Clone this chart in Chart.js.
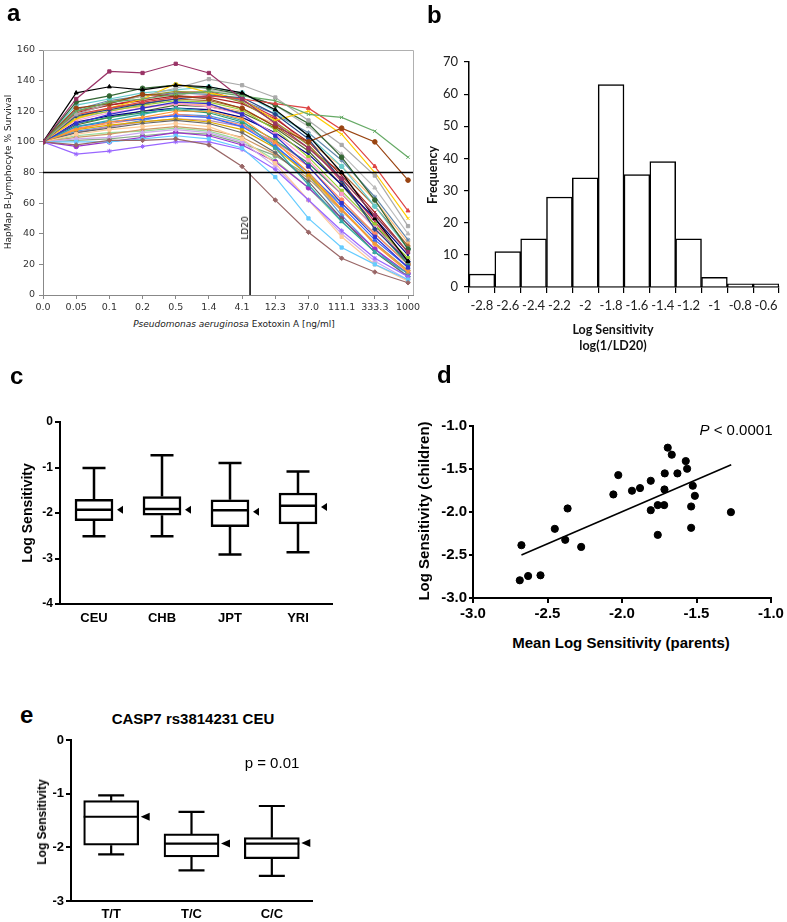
<!DOCTYPE html>
<html>
<head>
<meta charset="utf-8">
<script src="https://cdn.jsdelivr.net/npm/chart.js@4.4.1/dist/chart.umd.min.js"></script>
<style>
  body { margin: 0; background: #fff; }
  #fig { position: relative; width: 787px; height: 922px; overflow: hidden; font-family: "Liberation Sans", Arial, sans-serif; color: #000; }
  canvas { position: absolute; }
  .lbl { position: absolute; white-space: nowrap; line-height: 1; }
  .ctr { transform: translate(-50%, -50%); }
  .rot { transform: translate(-50%, -50%) rotate(-90deg); }
  .letter { font-weight: bold; font-size: 24px; }
</style>
</head>
<body>
<div id="fig">
  <canvas id="chartA" width="420" height="310" style="left:0;top:0"></canvas>
  <canvas id="chartB" width="387" height="310" style="left:400px;top:0"></canvas>
  <canvas id="chartC" width="345" height="290" style="left:0;top:340px"></canvas>
  <canvas id="chartD" width="397" height="290" style="left:390px;top:340px"></canvas>
  <canvas id="chartE" width="330" height="192" style="left:0;top:730px"></canvas>

  <div class="lbl letter" style="left:7px;top:1px">a</div>
  <div class="lbl letter" style="left:427px;top:3px">b</div>
  <div class="lbl letter" style="left:10px;top:364px">c</div>
  <div class="lbl letter" style="left:437px;top:363px">d</div>
  <div class="lbl letter" style="left:20px;top:703px">e</div>

  <div class="lbl rot" style="left:8px;top:172px;font:9px 'DejaVu Sans';color:#222">HapMap B-Lymphocyte % Survival</div>
  <div class="lbl ctr" style="left:234px;top:324px;font:9px 'DejaVu Sans';color:#222"><i>Pseudomonas aeruginosa</i> Exotoxin A [ng/ml]</div>
  <div class="lbl rot" style="left:245px;top:228px;font:9px 'DejaVu Sans';color:#111">LD20</div>

  <div class="lbl rot" style="left:432px;top:175px;font:bold 12.5px Lato;color:#111">Frequency</div>
  <div class="lbl ctr" style="left:613px;top:329px;font:bold 12.5px Lato;color:#111">Log Sensitivity</div>
  <div class="lbl ctr" style="left:613px;top:345px;font:bold 12.5px Lato;color:#111">log(1/LD20)</div>

  <div class="lbl rot" style="left:27px;top:513px;font-weight:bold;font-size:14px">Log Sensitivity</div>

  <div class="lbl rot" style="left:423px;top:511px;font-weight:bold;font-size:15px">Log Sensitivity (children)</div>
  <div class="lbl ctr" style="left:621px;top:642px;font-weight:bold;font-size:15px">Mean Log Sensitivity (parents)</div>
  <div class="lbl ctr" style="left:736px;top:429px;font-size:15px"><i>P</i> &lt; 0.0001</div>

  <div class="lbl ctr" style="left:193px;top:718px;font-weight:bold;font-size:15px">CASP7 rs3814231 CEU</div>
  <div class="lbl rot" style="left:42px;top:822px;font-weight:bold;font-size:12px">Log Sensitivity</div>
  <div class="lbl ctr" style="left:272px;top:762px;font-size:15px">p = 0.01</div>
</div>

<script>
// ---- panel a: dose response curves ----
const doseLabels = ['0.0', '0.05', '0.1', '0.2', '0.5', '1.4', '4.1', '12.3', '37.0', '111.1', '333.3', '1000'];
const survival = [
  [100, 128, 146, 145, 151, 145, 128, 112, 96, 76, 52, 28],
  [100, 132, 136, 134, 137, 136, 132, 121, 104, 80, 50, 22],
  [100, 98, 101, 101, 102, 98, 84, 62, 41, 24, 15, 8],
  [100, 120, 126, 128, 131, 133, 130, 127, 118, 116, 107, 90],
  [100, 122, 125, 131, 130, 128, 122, 110, 100, 109, 100, 75],
  [100, 100, 100, 102, 104, 102, 96, 77, 50, 31, 20, 10],
  [100, 92, 94, 97, 100, 100, 95, 82, 62, 42, 24, 12],
  [100, 118, 125, 130, 135, 141, 137, 129, 114, 98, 78, 45],
  [100, 118, 122, 126, 129, 130, 128, 125, 122, 108, 84, 55],
  [100, 117, 121, 125, 128, 130, 129, 118, 102, 75, 43, 22],
  [100, 115, 122, 128, 138, 132, 128, 114, 120, 105, 80, 50],
  [100, 126, 130, 135, 137, 135, 131, 124, 112, 90, 62, 30],
  [100, 112, 118, 122, 126, 125, 118, 104, 84, 60, 38, 18],
  [100, 108, 113, 116, 120, 120, 115, 100, 80, 56, 33, 15],
  [100, 105, 108, 110, 112, 110, 102, 86, 62, 38, 20, 9],
  [100, 110, 114, 118, 122, 120, 114, 96, 72, 48, 28, 14],
  [100, 102, 103, 106, 108, 106, 100, 84, 62, 40, 22, 10],
  [100, 120, 126, 130, 133, 132, 126, 113, 98, 76, 52, 28],
  [100, 124, 128, 132, 134, 136, 132, 120, 104, 84, 58, 30],
  [100, 114, 119, 122, 125, 123, 118, 105, 88, 66, 44, 22],
  [100, 106, 109, 112, 114, 112, 106, 93, 74, 50, 28, 12],
  [100, 116, 120, 124, 127, 126, 121, 108, 90, 68, 46, 24],
  [100, 110, 113, 115, 117, 116, 110, 97, 80, 58, 36, 18],
  [100, 103, 105, 108, 110, 108, 103, 92, 76, 55, 34, 16],
  [100, 119, 124, 127, 130, 129, 125, 115, 100, 78, 54, 28],
  [100, 97, 100, 103, 106, 104, 98, 87, 70, 50, 30, 14],
  [100, 112, 116, 119, 121, 119, 113, 101, 86, 66, 44, 20],
  [100, 121, 127, 130, 132, 131, 127, 118, 106, 88, 64, 36],
  [100, 108, 111, 113, 115, 113, 108, 96, 78, 56, 34, 16],
  [100, 104, 106, 107, 109, 107, 101, 88, 70, 48, 28, 12],
  [100, 116, 122, 125, 128, 127, 122, 110, 96, 80, 58, 32],
  [100, 113, 117, 120, 122, 121, 116, 106, 92, 72, 50, 26],
  [100, 109, 112, 115, 118, 116, 111, 99, 84, 62, 40, 20],
  [100, 118, 121, 123, 125, 124, 120, 112, 100, 84, 62, 34],
  [100, 106, 110, 113, 115, 114, 110, 100, 86, 66, 44, 22],
  [100, 111, 116, 120, 124, 123, 119, 109, 94, 72, 46, 20],
  [100, 115, 120, 124, 130, 134, 131, 124, 110, 92, 70, 40],
  [100, 107, 110, 114, 118, 117, 112, 98, 78, 52, 30, 12],
  [100, 120, 124, 128, 132, 133, 127, 116, 98, 74, 48, 22],
  [100, 101, 102, 104, 106, 105, 99, 91, 78, 60, 40, 20]
];
const seriesColors = [
  '#993366', '#000000', '#996666', '#66aa66', '#994411', '#66ccff', '#9966ff', '#aaaaaa',
  '#dd4444', '#224488', '#ffcc00', '#336633', '#3333cc', '#ff9933', '#ffcc99', '#33aaaa',
  '#ccaaee', '#999933', '#66cccc', '#ff99cc', '#666666', '#99cc33', '#3366ff', '#cc9966',
  '#aa2222', '#9933cc', '#339966', '#6688aa', '#ddaa00', '#99dd99', '#aa6633', '#000088',
  '#ff8866', '#ffbb77', '#bb88bb', '#556b2f', '#bbbbbb', '#5599dd', '#cc3355', '#88aa88'
];
const markerStyles = ['rect', 'triangle', 'rectRot', 'crossRot', 'circle', 'rect', 'star'];
const ld20Value = 80;
const ld20Dose = 6.24; // position between 4.1 and 12.3

// ---- panel b: histogram ----
const binLabels = ['-2.8', '-2.6', '-2.4', '-2.2', '-2', '-1.8', '-1.6', '-1.4', '-1.2', '-1', '-0.8', '-0.6'];
const binCounts = [4, 11, 15, 28, 34, 63, 35, 39, 15, 3, 1, 1];

// ---- panel c: populations ----
const popLabels = ['CEU', 'CHB', 'JPT', 'YRI'];
const popMax = [-1.01, -0.73, -0.90, -1.09];
const popQ3 = [-1.70, -1.64, -1.71, -1.56];
const popMedian = [-1.93, -1.91, -1.94, -1.84];
const popQ1 = [-2.17, -2.05, -2.30, -2.24];
const popMin = [-2.51, -2.51, -2.91, -2.86];
const popMean = [-1.93, -1.93, -1.97, -1.87];

// ---- panel d: parents vs children ----
const parentMean = [-2.675, -2.686, -2.63, -2.547, -2.451, -2.381, -2.365, -2.274, -2.058, -2.025,
  -1.933, -1.879, -1.807, -1.807, -1.76, -1.76, -1.717, -1.715, -1.713, -1.693,
  -1.666, -1.628, -1.572, -1.563, -1.525, -1.536, -1.511, -1.536, -1.269];
const childValue = [-2.386, -2.794, -2.744, -2.736, -2.196, -2.324, -1.959, -2.406, -1.796, -1.571,
  -1.753, -1.722, -1.637, -1.979, -1.92, -2.266, -1.92, -1.738, -1.551, -1.252,
  -1.334, -1.551, -1.408, -1.497, -1.695, -1.936, -1.812, -2.184, -2.002];
const fitX = [-2.675, -1.267];
const fitY = [-2.50, -1.45];

// ---- panel e: genotypes ----
const genoLabels = ['T/T', 'T/C', 'C/C'];
const genoMax = [-1.03, -1.34, -1.23];
const genoQ3 = [-1.13, -1.75, -1.82];
const genoMedian = [-1.43, -1.93, -1.93];
const genoQ1 = [-1.96, -2.18, -2.21];
const genoMin = [-2.13, -2.43, -2.53];
const genoMean = [-1.43, -1.93, -1.92];

Chart.defaults.font.family = '"Liberation Sans", Arial, sans-serif';
Chart.defaults.color = '#000';

function fixX(h) {
  return function (s) { s.height = h; s.paddingLeft = 0; s.paddingRight = 0; };
}
function fixY(w) {
  return function (s) { s.width = w; s.paddingTop = 0; s.paddingBottom = 0; };
}
const baseOpts = {
  animation: false,
  responsive: false,
  devicePixelRatio: 1,
  plugins: { legend: { display: false }, tooltip: { enabled: false } }
};

// gray frame on top and right of panel a
const frameA = {
  id: 'frameA',
  beforeDatasetsDraw(chart) {
    const { ctx, chartArea: a } = chart;
    ctx.save();
    ctx.strokeStyle = '#b0b0b0';
    ctx.lineWidth = 1;
    ctx.beginPath();
    ctx.moveTo(a.left, a.top + 0.5);
    ctx.lineTo(a.right + 0.5, a.top + 0.5);
    ctx.lineTo(a.right + 0.5, a.bottom);
    ctx.stroke();
    ctx.restore();
  }
};

const curveSets = survival.map((vals, k) => ({
  data: vals.map((v, i) => ({ x: i, y: v })),
  borderColor: seriesColors[k],
  backgroundColor: seriesColors[k],
  borderWidth: 1.2,
  pointStyle: markerStyles[k % markerStyles.length],
  pointRadius: 2.3,
  pointBorderWidth: 1
}));

new Chart(document.getElementById('chartA'), {
  type: 'line',
  data: {
    datasets: [
      { data: [{ x: 0, y: ld20Value }, { x: 11.15, y: ld20Value }], borderColor: '#000', borderWidth: 1.3, pointRadius: 0 },
      { data: [{ x: ld20Dose, y: ld20Value }, { x: ld20Dose, y: 0 }], borderColor: '#000', borderWidth: 1.5, pointRadius: 0 }
    ].concat(curveSets)
  },
  options: Object.assign({}, baseOpts, {
    layout: { padding: { top: 50, right: 7, left: 0, bottom: 0 } },
    scales: {
      x: {
        type: 'linear', min: 0, max: 11.15,
        afterBuildTicks(s) { s.ticks = doseLabels.map((_, i) => ({ value: i })); },
        ticks: { callback: v => doseLabels[v], font: { family: 'DejaVu Sans', size: 9.5 }, color: '#333', padding: 3, maxRotation: 0, autoSkip: false },
        grid: { drawOnChartArea: false, tickLength: 4, color: '#888' },
        border: { color: '#888' },
        afterFit: fixX(15)
      },
      y: {
        min: 0, max: 160,
        ticks: { stepSize: 20, font: { family: 'DejaVu Sans', size: 9.5 }, color: '#333', padding: 4 },
        grid: { drawOnChartArea: false, tickLength: 4, color: '#888' },
        border: { color: '#888' },
        afterFit: fixY(43)
      }
    }
  }),
  plugins: [frameA]
});

new Chart(document.getElementById('chartB'), {
  type: 'bar',
  data: {
    labels: binLabels,
    datasets: [{ data: binCounts, backgroundColor: '#fff', borderColor: '#000', borderWidth: 1.5, barPercentage: 1, categoryPercentage: 1 }]
  },
  options: Object.assign({}, baseOpts, {
    layout: { padding: { top: 62, right: 8, left: 0, bottom: 0 } },
    scales: {
      x: {
        ticks: { font: { family: 'Lato', size: 13 }, color: '#222', padding: 5, maxRotation: 0, autoSkip: false },
        grid: { drawOnChartArea: false, tickLength: 6, color: '#000', lineWidth: 1.2 },
        border: { color: '#000', width: 1.5 },
        afterFit: fixX(23)
      },
      y: {
        min: 0, max: 70,
        ticks: { stepSize: 10, font: { family: 'Lato', size: 13 }, color: '#222', padding: 6 },
        grid: { drawOnChartArea: false, tickLength: 5, color: '#000', lineWidth: 1.2 },
        border: { color: '#000', width: 1.5 },
        afterFit: fixY(69)
      }
    }
  })
});

// whiskers, medians and mean arrows drawn through the chart's scales
function makeBoxPlugin(st) {
  return {
    id: 'boxWhiskers',
    afterDatasetsDraw(chart) {
      const { ctx } = chart;
      const y = chart.scales.y;
      const meta = chart.getDatasetMeta(0);
      ctx.save();
      ctx.strokeStyle = '#000';
      ctx.fillStyle = '#000';
      ctx.lineWidth = st.lineWidth;
      meta.data.forEach((bar, i) => {
        const cx = bar.x, half = bar.width / 2;
        const yMax = y.getPixelForValue(st.max[i]);
        const yMin = y.getPixelForValue(st.min[i]);
        const yQ3 = y.getPixelForValue(st.q3[i]);
        const yQ1 = y.getPixelForValue(st.q1[i]);
        const yMed = y.getPixelForValue(st.median[i]);
        const yMean = y.getPixelForValue(st.mean[i]);
        ctx.beginPath();
        ctx.moveTo(cx, yQ3); ctx.lineTo(cx, yMax);
        ctx.moveTo(cx - st.cap / 2, yMax); ctx.lineTo(cx + st.cap / 2, yMax);
        ctx.moveTo(cx, yQ1); ctx.lineTo(cx, yMin);
        ctx.moveTo(cx - st.cap / 2, yMin); ctx.lineTo(cx + st.cap / 2, yMin);
        ctx.moveTo(cx - half, yMed); ctx.lineTo(cx + half, yMed);
        ctx.stroke();
        const tip = cx + half + st.gap;
        ctx.beginPath();
        ctx.moveTo(tip, yMean);
        ctx.lineTo(tip + st.len, yMean - st.halfH);
        ctx.lineTo(tip + st.len, yMean + st.halfH);
        ctx.closePath();
        ctx.fill();
      });
      ctx.restore();
    }
  };
}

function boxChart(id, labels, q1, q3, st, cfg) {
  return new Chart(document.getElementById(id), {
    type: 'bar',
    data: {
      labels: labels,
      datasets: [{
        data: labels.map((_, i) => [q1[i], q3[i]]),
        backgroundColor: '#fff', borderColor: '#000', borderWidth: st.lineWidth,
        borderSkipped: false, barThickness: cfg.barWidth
      }]
    },
    options: Object.assign({}, baseOpts, {
      layout: { padding: cfg.padding },
      scales: {
        x: {
          ticks: { font: { weight: 'bold', size: cfg.xFont }, color: '#000', padding: cfg.xPad },
          grid: { display: false, drawTicks: false },
          border: { color: '#000', width: 2 },
          afterFit: fixX(cfg.xHeight)
        },
        y: {
          min: cfg.yMin, max: 0,
          ticks: { stepSize: 1, font: { weight: 'bold', size: cfg.yFont }, color: '#000', padding: 2 },
          grid: { drawOnChartArea: false, tickLength: 5, color: '#000', lineWidth: 2 },
          border: { color: '#000', width: 2 },
          afterFit: fixY(cfg.yWidth)
        }
      }
    }),
    plugins: [makeBoxPlugin(st)]
  });
}

boxChart('chartC', popLabels, popQ1, popQ3,
  { max: popMax, q3: popQ3, median: popMedian, q1: popQ1, min: popMin, mean: popMean, lineWidth: 2.5, cap: 23, gap: 4, len: 6, halfH: 4 },
  { barWidth: 38, padding: { top: 82, right: 13, left: 0, bottom: 0 }, xFont: 13, xPad: 7, xHeight: 26, yMin: -4, yFont: 12, yWidth: 60 });

boxChart('chartE', genoLabels, genoQ1, genoQ3,
  { max: genoMax, q3: genoQ3, median: genoMedian, q1: genoQ1, min: genoMin, mean: genoMean, lineWidth: 2.2, cap: 26, gap: 2, len: 9, halfH: 4 },
  { barWidth: 55, padding: { top: 10, right: 18, left: 0, bottom: 0 }, xFont: 13, xPad: 6, xHeight: 21, yMin: -3, yFont: 13, yWidth: 71 });

new Chart(document.getElementById('chartD'), {
  type: 'scatter',
  data: {
    datasets: [
      { data: parentMean.map((x, i) => ({ x: x, y: childValue[i] })), backgroundColor: '#000', borderColor: '#000', pointRadius: 3.6 },
      { type: 'line', data: fitX.map((x, i) => ({ x: x, y: fitY[i] })), borderColor: '#000', borderWidth: 1.6, pointRadius: 0 }
    ]
  },
  options: Object.assign({}, baseOpts, {
    layout: { padding: { top: 86, right: 16, left: 0, bottom: 0 } },
    scales: {
      x: {
        type: 'linear', min: -3, max: -1,
        ticks: { stepSize: 0.5, callback: v => v.toFixed(1), font: { weight: 'bold', size: 15 }, color: '#000', padding: 2 },
        grid: { drawOnChartArea: false, tickLength: 5, color: '#000', lineWidth: 2 },
        border: { color: '#000', width: 2 },
        afterFit: fixX(32)
      },
      y: {
        min: -3, max: -1,
        ticks: { stepSize: 0.5, callback: v => v.toFixed(1), font: { weight: 'bold', size: 15 }, color: '#000', padding: 2 },
        grid: { drawOnChartArea: false, tickLength: 4, color: '#000', lineWidth: 2 },
        border: { color: '#000', width: 2 },
        afterFit: fixY(83)
      }
    }
  })
});
</script>
</body>
</html>
